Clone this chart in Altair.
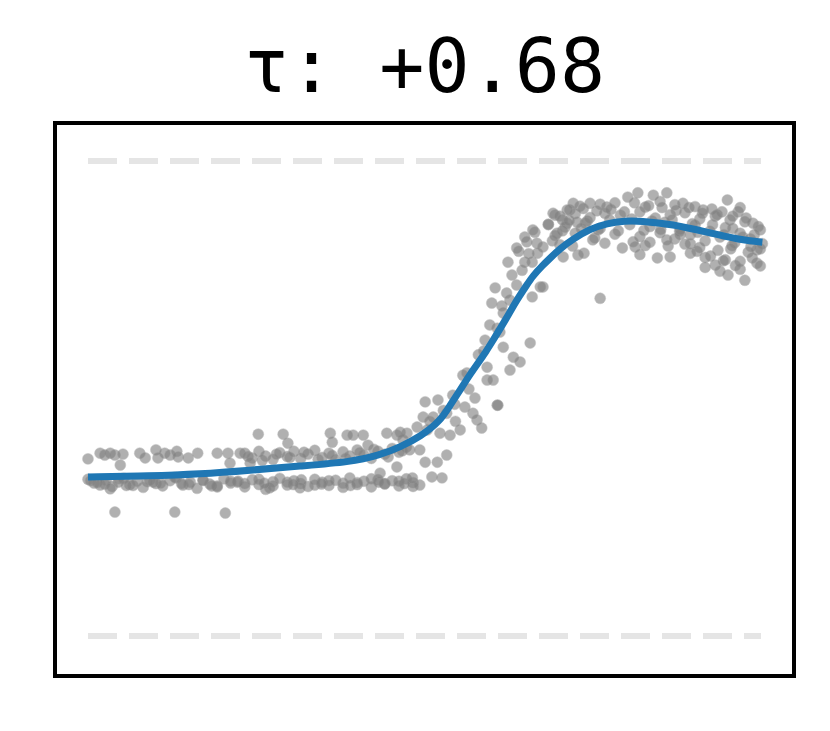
import altair as alt
import pandas as pd

# ---------------- scatter data (x: 0..1 time, y: normalised value) ----------------
# lower dense band (left half)
lower_x = [0.000, 0.009, 0.018, 0.027, 0.036, 0.045, 0.053, 0.062, 0.073, 0.082,
           0.092, 0.101, 0.111, 0.122, 0.131, 0.141, 0.152, 0.162, 0.171, 0.181,
           0.192, 0.202, 0.212, 0.223, 0.233, 0.244, 0.254, 0.264, 0.275, 0.285,
           0.296, 0.306, 0.316, 0.327, 0.337, 0.348, 0.358, 0.368, 0.379, 0.389,
           0.400, 0.410, 0.421, 0.431, 0.441, 0.452, 0.462, 0.473, 0.483, 0.493]
lower_y = [0.330, 0.322, 0.318, 0.328, 0.315, 0.324, 0.332, 0.319, 0.326, 0.313,
           0.329, 0.321, 0.316, 0.327, 0.333, 0.318, 0.324, 0.311, 0.328, 0.320,
           0.316, 0.331, 0.322, 0.326, 0.314, 0.329, 0.319, 0.309, 0.325, 0.332,
           0.318, 0.327, 0.321, 0.315, 0.330, 0.324, 0.317, 0.328, 0.322, 0.333,
           0.319, 0.326, 0.314, 0.329, 0.321, 0.327, 0.316, 0.331, 0.323, 0.318]
lower2_x = [0.004, 0.025, 0.046, 0.067, 0.088, 0.108, 0.129, 0.150, 0.171, 0.192,
            0.212, 0.233, 0.254, 0.275, 0.296, 0.317, 0.337, 0.358, 0.379, 0.400,
            0.421, 0.441, 0.462, 0.483, 0.270, 0.315, 0.033,
            0.014, 0.057, 0.097, 0.139, 0.184, 0.222, 0.262, 0.305, 0.347, 0.390,
            0.432, 0.470]
lower2_y = [0.327, 0.320, 0.331, 0.317, 0.325, 0.322, 0.334, 0.319, 0.328, 0.314,
            0.326, 0.321, 0.330, 0.316, 0.324, 0.329, 0.318, 0.327, 0.313, 0.323,
            0.331, 0.320, 0.326, 0.315, 0.312, 0.312, 0.310,
            0.323, 0.317, 0.324, 0.321, 0.316, 0.324, 0.322, 0.319, 0.320, 0.317,
            0.324, 0.321]
# upper band (left part)
upper_x = [0.000, 0.018, 0.025, 0.033, 0.040, 0.048, 0.052, 0.077, 0.085, 0.101,
           0.104, 0.114, 0.122, 0.132, 0.134, 0.149, 0.163, 0.192, 0.208, 0.211,
           0.226]
upper_y = [0.373, 0.385, 0.381, 0.385, 0.381, 0.360, 0.383, 0.385, 0.375, 0.392,
           0.375, 0.385, 0.381, 0.389, 0.377, 0.375, 0.385, 0.385, 0.385, 0.364,
           0.385]
# isolated low points
low_x = [0.040, 0.129, 0.204]
low_y = [0.261, 0.261, 0.259]
# middle band (before the rise)
mid_x = [0.233, 0.244, 0.254, 0.264, 0.275, 0.285, 0.296, 0.306, 0.316, 0.327,
         0.337, 0.348, 0.358, 0.368, 0.379, 0.389, 0.400, 0.410, 0.421, 0.431,
         0.441, 0.452, 0.462, 0.473, 0.241,
         0.238, 0.259, 0.280, 0.300, 0.321, 0.342, 0.363, 0.383, 0.404, 0.425,
         0.446, 0.467]
mid_y = [0.385, 0.375, 0.389, 0.379, 0.372, 0.386, 0.378, 0.389, 0.374, 0.383,
         0.391, 0.376, 0.385, 0.371, 0.388, 0.379, 0.392, 0.381, 0.374, 0.389,
         0.383, 0.395, 0.387, 0.398, 0.364,
         0.378, 0.370, 0.383, 0.376, 0.387, 0.372, 0.380, 0.374, 0.386, 0.393,
         0.377, 0.390]
# sparse points above the middle band
top_x = [0.253, 0.290, 0.297, 0.360, 0.363, 0.385, 0.394, 0.409, 0.416, 0.444,
         0.459, 0.468, 0.434, 0.459, 0.482, 0.511, 0.526]
top_y = [0.425, 0.425, 0.406, 0.427, 0.408, 0.423, 0.423, 0.423, 0.402, 0.427,
         0.423, 0.413, 0.343, 0.356, 0.333, 0.335, 0.333]
# rising section
rise_x = [0.501, 0.520, 0.542, 0.608, 0.498, 0.513, 0.533, 0.560, 0.572, 0.578,
          0.585, 0.553, 0.538, 0.523, 0.504, 0.489, 0.474, 0.464, 0.478, 0.493,
          0.501, 0.519, 0.533, 0.557, 0.563, 0.580, 0.590, 0.593, 0.593, 0.602,
          0.609, 0.608, 0.612, 0.617, 0.627, 0.632, 0.642, 0.657, 0.600, 0.617,
          0.605, 0.627, 0.624, 0.637, 0.672, 0.660, 0.649, 0.660, 0.637, 0.667,
          0.676, 0.649, 0.664, 0.697, 0.694, 0.716, 0.727, 0.712, 0.706, 0.661,
          0.676,
          0.508, 0.528, 0.546, 0.566, 0.575, 0.597, 0.615, 0.622, 0.630, 0.645,
          0.655, 0.668, 0.684, 0.690, 0.705, 0.545, 0.588, 0.640, 0.652]
rise_y = [0.493, 0.497, 0.507, 0.486, 0.461, 0.461, 0.469, 0.482, 0.469, 0.455,
          0.438, 0.434, 0.423, 0.427, 0.434, 0.440, 0.427, 0.429, 0.392, 0.392,
          0.366, 0.366, 0.381, 0.549, 0.554, 0.592, 0.623, 0.566, 0.539, 0.539,
          0.486, 0.648, 0.640, 0.608, 0.560, 0.587, 0.577, 0.617, 0.701, 0.680,
          0.733, 0.707, 0.787, 0.739, 0.735, 0.714, 0.787, 0.787, 0.817, 0.827,
          0.819, 0.840, 0.850, 0.848, 0.886, 0.897, 0.871, 0.869, 0.798, 0.855,
          0.735,
          0.452, 0.475, 0.452, 0.520, 0.501, 0.655, 0.695, 0.722, 0.760, 0.770,
          0.805, 0.806, 0.866, 0.832, 0.876, 0.488, 0.600, 0.810, 0.830]
# plateau cloud (right part)
plat_x = [0.691, 0.721, 0.746, 0.771, 0.802, 0.817, 0.840, 0.860, 0.884, 0.914,
          0.942, 0.950, 0.966, 0.988, 0.994, 0.994, 0.976, 0.951, 0.932, 0.846,
          0.794, 0.750, 0.728, 0.761,
          0.731, 0.761, 0.783, 0.828, 0.850, 0.872, 0.902, 0.927, 0.969,
          0.701, 0.724, 0.746, 0.768, 0.791, 0.820, 0.843, 0.865, 0.887, 0.909,
          0.932, 0.954, 0.976,
          0.684, 0.709, 0.739, 0.761, 0.805, 0.835, 0.857, 0.880, 0.902, 0.924,
          0.947, 0.969, 0.999,
          0.694, 0.724, 0.753, 0.783, 0.820, 0.850, 0.872, 0.895, 0.917, 0.939,
          0.961, 0.984, 1.002,
          0.701, 0.768, 0.813, 0.835, 0.862, 0.887, 0.909, 0.936, 0.957, 0.981,
          0.999,
          0.820, 0.865, 0.895, 0.917, 0.947, 0.969, 0.987,
          0.917, 0.939, 0.969, 0.999,
          0.810, 0.828, 0.860, 0.880, 0.895, 0.720, 0.737,
          0.712, 0.736, 0.756, 0.777, 0.797, 0.812, 0.833, 0.853, 0.874, 0.893,
          0.913, 0.935, 0.958, 0.978, 0.996,
          0.715, 0.742, 0.775, 0.808, 0.838, 0.868, 0.898, 0.928, 0.958, 0.990,
          0.705, 0.733, 0.758, 0.788, 0.826, 0.851, 0.879, 0.906, 0.945, 0.973,
          0.905, 0.925, 0.955, 0.985, 0.944, 0.962]
plat_y = [0.890, 0.911, 0.911, 0.903, 0.924, 0.933, 0.928, 0.933, 0.911, 0.897,
          0.893, 0.918, 0.893, 0.869, 0.813, 0.785, 0.749, 0.760, 0.781, 0.796,
          0.817, 0.834, 0.802, 0.711,
          0.905, 0.909, 0.912, 0.903, 0.915, 0.908, 0.904, 0.899, 0.902,
          0.884, 0.889, 0.881, 0.890, 0.886, 0.893, 0.880, 0.887, 0.891, 0.878,
          0.884, 0.876, 0.872,
          0.867, 0.861, 0.869, 0.858, 0.866, 0.862, 0.871, 0.857, 0.865, 0.852,
          0.860, 0.848, 0.855,
          0.843, 0.848, 0.838, 0.846, 0.841, 0.849, 0.836, 0.845, 0.832, 0.840,
          0.828, 0.836, 0.826,
          0.824, 0.827, 0.819, 0.829, 0.821, 0.825, 0.818, 0.812, 0.822, 0.808,
          0.815,
          0.803, 0.798, 0.806, 0.797, 0.792, 0.789, 0.796,
          0.776, 0.768, 0.772, 0.779,
          0.830, 0.822, 0.834, 0.845, 0.826, 0.821, 0.806,
          0.897, 0.900, 0.895, 0.898, 0.893, 0.912, 0.906, 0.902, 0.896, 0.902,
          0.890, 0.887, 0.884, 0.880, 0.862,
          0.875, 0.874, 0.876, 0.878, 0.874, 0.876, 0.868, 0.866, 0.858, 0.845,
          0.853, 0.858, 0.855, 0.853, 0.854, 0.856, 0.852, 0.850, 0.845, 0.840,
          0.810, 0.800, 0.815, 0.820, 0.790, 0.780]

# ---------------- smooth fit ----------------
curve_x = [0.000, 0.092, 0.166, 0.241, 0.315, 0.389, 0.434, 0.464, 0.494, 0.523,
           0.538, 0.553, 0.568, 0.587, 0.602, 0.612, 0.627, 0.637, 0.652, 0.661,
           0.676, 0.687, 0.701, 0.721, 0.746, 0.771, 0.798, 0.820, 0.869, 0.920,
           0.969, 1.002]
curve_y = [0.335, 0.337, 0.341, 0.349, 0.358, 0.366, 0.381, 0.398, 0.420, 0.452,
           0.486, 0.518, 0.552, 0.589, 0.623, 0.646, 0.682, 0.707, 0.739, 0.758,
           0.781, 0.796, 0.815, 0.836, 0.857, 0.869, 0.874, 0.874, 0.867, 0.850,
           0.834, 0.829]

# reference levels
ref_levels = [0.0, 1.0]
ref_start = [0.0, 0.0]
ref_end = [1.0, 1.0]

title_text = ["τ: +0.68"]

pts = pd.DataFrame({
    "x": lower_x + lower2_x + upper_x + low_x + mid_x + top_x + rise_x + plat_x,
    "y": lower_y + lower2_y + upper_y + low_y + mid_y + top_y + rise_y + plat_y,
})
curve = pd.DataFrame({"x": curve_x, "y": curve_y})
ref = pd.DataFrame({"y": ref_levels, "x": ref_start, "x2": ref_end})
ttl = pd.DataFrame({"t": title_text})

xs = alt.Scale(domain=[-0.049, 1.049], nice=False, zero=False)
ys = alt.Scale(domain=[-0.084, 1.080], nice=False, zero=False)

rules = alt.Chart(ref).mark_rule(
    color="#e5e5e5", strokeWidth=6, strokeDash=[29, 12]
).encode(
    x=alt.X("x:Q", scale=xs, axis=None),
    x2="x2:Q",
    y=alt.Y("y:Q", scale=ys, axis=None),
)

points = alt.Chart(pts).mark_circle(
    color="#808080", opacity=0.62, size=120, stroke="#9a9a9a", strokeWidth=1,
    strokeOpacity=0.5
).encode(
    x=alt.X("x:Q", scale=xs, axis=None),
    y=alt.Y("y:Q", scale=ys, axis=None),
)

line = alt.Chart(curve).mark_line(
    color="#1f77b4", strokeWidth=7, interpolate="basis"
).encode(
    x=alt.X("x:Q", scale=xs, axis=None),
    y=alt.Y("y:Q", scale=ys, axis=None),
)

title = alt.Chart(ttl).mark_text(
    font="DejaVu Sans Mono", fontSize=75, color="black",
    align="center", baseline="alphabetic",
).encode(
    text="t:N",
    x=alt.value(369.5),
    y=alt.value(-31),
)

chart = alt.layer(rules, points, line, title).properties(
    width=739,
    height=553,
    padding={"left": 47, "top": 115, "right": 28, "bottom": 40},
    autosize="none",
).configure_view(stroke="black", strokeWidth=4)

chart.save("out.html", embed_options={"renderer": "svg", "actions": False})
